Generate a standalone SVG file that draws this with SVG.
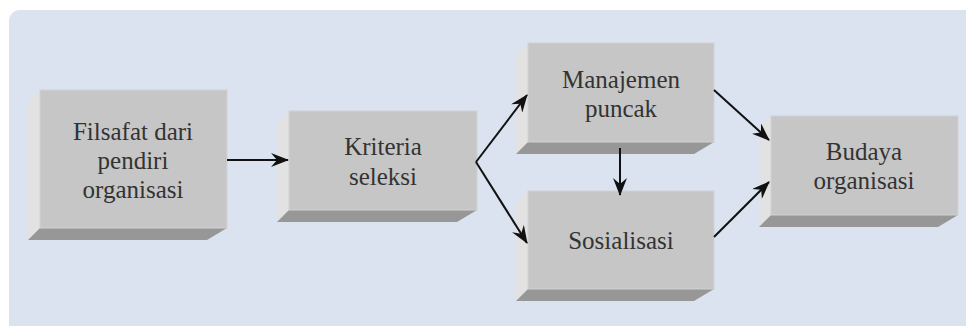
<svg xmlns="http://www.w3.org/2000/svg" width="966" height="326" viewBox="0 0 966 326">
<style>
.front{fill:#c6c6c6;stroke:#d2d2d2;stroke-width:1}
.side{fill:#e2e2e2}
.bottom{fill:#979797}
.lbl{font-family:'Liberation Serif','Times New Roman',Times,'DejaVu Serif',serif;font-size:25px;fill:#333;text-anchor:middle}
.conn line{stroke:#111;stroke-width:2;fill:none}
</style>
<defs>
<marker id="ah" viewBox="0 0 18 14" refX="17" refY="7" markerWidth="18" markerHeight="14" markerUnits="userSpaceOnUse" orient="auto">
<path d="M0,0 L18,7 L0,14 L6,7 z" fill="#111"/>
</marker>
</defs>
<rect x="0" y="0" width="966" height="326" fill="#ffffff"/>
<rect x="9" y="10" width="975" height="330" rx="11" fill="#dae3ef"/>

<g id="n1">
<polygon class="side" points="40,90 28,102 28,240 40,228"/>
<polygon class="bottom" points="40,228 227,228 207,240 28,240"/>
<rect class="front" x="40" y="90" width="187" height="138"/>
<text class="lbl" x="133" y="140">Filsafat dari</text>
<text class="lbl" x="133" y="169">pendiri</text>
<text class="lbl" x="133" y="198">organisasi</text>
</g>

<g id="n2">
<polygon class="side" points="289,111 277,123 277,222 289,210"/>
<polygon class="bottom" points="289,210 477,210 457,222 277,222"/>
<rect class="front" x="289" y="111" width="188" height="99"/>
<text class="lbl" x="383" y="155">Kriteria</text>
<text class="lbl" x="383" y="185">seleksi</text>
</g>

<g id="n3">
<polygon class="side" points="528,43 516,55 516,154 528,142"/>
<polygon class="bottom" points="528,142 714,142 694,154 516,154"/>
<rect class="front" x="528" y="43" width="186" height="99"/>
<text class="lbl" x="621" y="88">Manajemen</text>
<text class="lbl" x="621" y="117">puncak</text>
</g>

<g id="n4">
<polygon class="side" points="528,191 516,203 516,301 528,289"/>
<polygon class="bottom" points="528,289 714,289 694,301 516,301"/>
<rect class="front" x="528" y="191" width="186" height="98"/>
<text class="lbl" x="621" y="249">Sosialisasi</text>
</g>

<g id="n5">
<polygon class="side" points="771,116 759,128 759,227 771,215"/>
<polygon class="bottom" points="771,215 958,215 938,227 759,227"/>
<rect class="front" x="771" y="116" width="187" height="99"/>
<text class="lbl" x="864" y="160">Budaya</text>
<text class="lbl" x="864" y="189">organisasi</text>
</g>

<g class="conn">
<line x1="227" y1="160" x2="288" y2="160" marker-end="url(#ah)"/>
<line x1="476" y1="162" x2="527" y2="95" marker-end="url(#ah)"/>
<line x1="476" y1="162" x2="527" y2="243" marker-end="url(#ah)"/>
<line x1="620" y1="148" x2="620" y2="195" marker-end="url(#ah)"/>
<line x1="714" y1="90" x2="769" y2="140" marker-end="url(#ah)"/>
<line x1="714" y1="237" x2="769" y2="182" marker-end="url(#ah)"/>
</g>
</svg>
